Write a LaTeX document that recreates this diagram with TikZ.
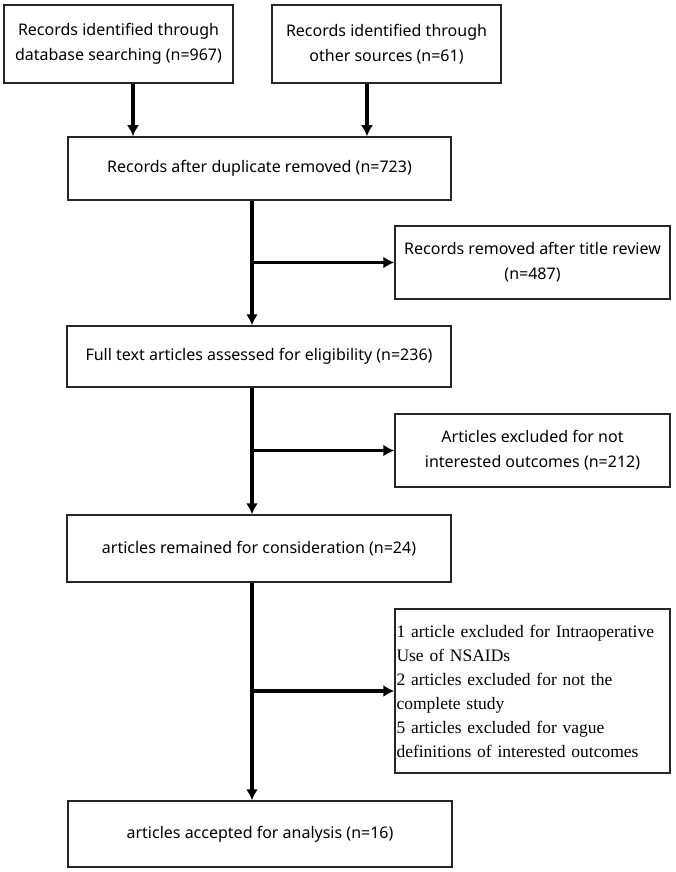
\documentclass[tikz,border=0pt]{standalone}
\usepackage{fontspec}
\setmainfont{Noto Sans}
\newfontfamily\timesfont{Liberation Serif}
\usetikzlibrary{arrows.meta}

\tikzset{
  box/.style={draw=black!85,line width=1.5pt,align=center,inner sep=2pt,
    font=\fontsize{16}{25}\selectfont},
  flow/.style={line width=3.5pt,-{Latex[length=11pt,width=12pt]}},
}

\begin{document}
\begin{tikzpicture}[x=1pt,y=-1pt]
\useasboundingbox (0,0) rectangle (675,872);

\node[box,minimum width=229pt,minimum height=78pt] (db) at (118.5,44)
  {Records identified through\\database searching (n=967)};
\node[box,minimum width=229pt,minimum height=78pt] (oth) at (386.5,44)
  {Records identified through\\other sources (n=61)};

\node[box,minimum width=383pt,minimum height=63pt] (dup) at (259.5,168.5)
  {Records after duplicate removed (n=723)};
\node[box,minimum width=275pt,minimum height=73pt] (rm1) at (532.5,262.5)
  {Records removed after title review\\(n=487)};

\node[box,minimum width=384pt,minimum height=61pt] (full) at (259,356.5)
  {Full text articles assessed for eligibility (n=236)};
\node[box,minimum width=275pt,minimum height=73pt] (rm2) at (532.5,450.5)
  {Articles excluded for not\\interested outcomes (n=212)};

\node[box,minimum width=384pt,minimum height=67pt] (rem) at (259,548.5)
  {articles remained for consideration (n=24)};
\node[box,minimum width=275pt,minimum height=164pt,text width=272pt,inner xsep=1.5pt,
  align=left,font=\timesfont\fontsize{17.5}{24}\selectfont] (rm3) at (532.5,691)
  {1 article excluded for Intraoperative\\Use of NSAIDs\\2 articles excluded for not the\\complete study\\5 articles excluded for vague\\definitions of interested outcomes};

\node[box,minimum width=384pt,minimum height=66pt] (acc) at (260,834)
  {articles accepted for analysis (n=16)};

\coordinate (a1) at (133,0);
\coordinate (a2) at (367,0);
\coordinate (spine) at (252,0);

\draw[flow] (db.south -| a1) -- (dup.north -| a1);
\draw[flow] (oth.south -| a2) -- (dup.north -| a2);

\draw[flow] (dup.south -| spine) -- (full.north -| spine);
\draw[flow] (rm1.west -| spine) -- (rm1.west);
\draw[flow] (full.south -| spine) -- (rem.north -| spine);
\draw[flow] (rm2.west -| spine) -- (rm2.west);
\draw[flow] (rem.south -| spine) -- (acc.north -| spine);
\draw[flow] (rm3.west -| spine) -- (rm3.west);
\end{tikzpicture}
\end{document}
